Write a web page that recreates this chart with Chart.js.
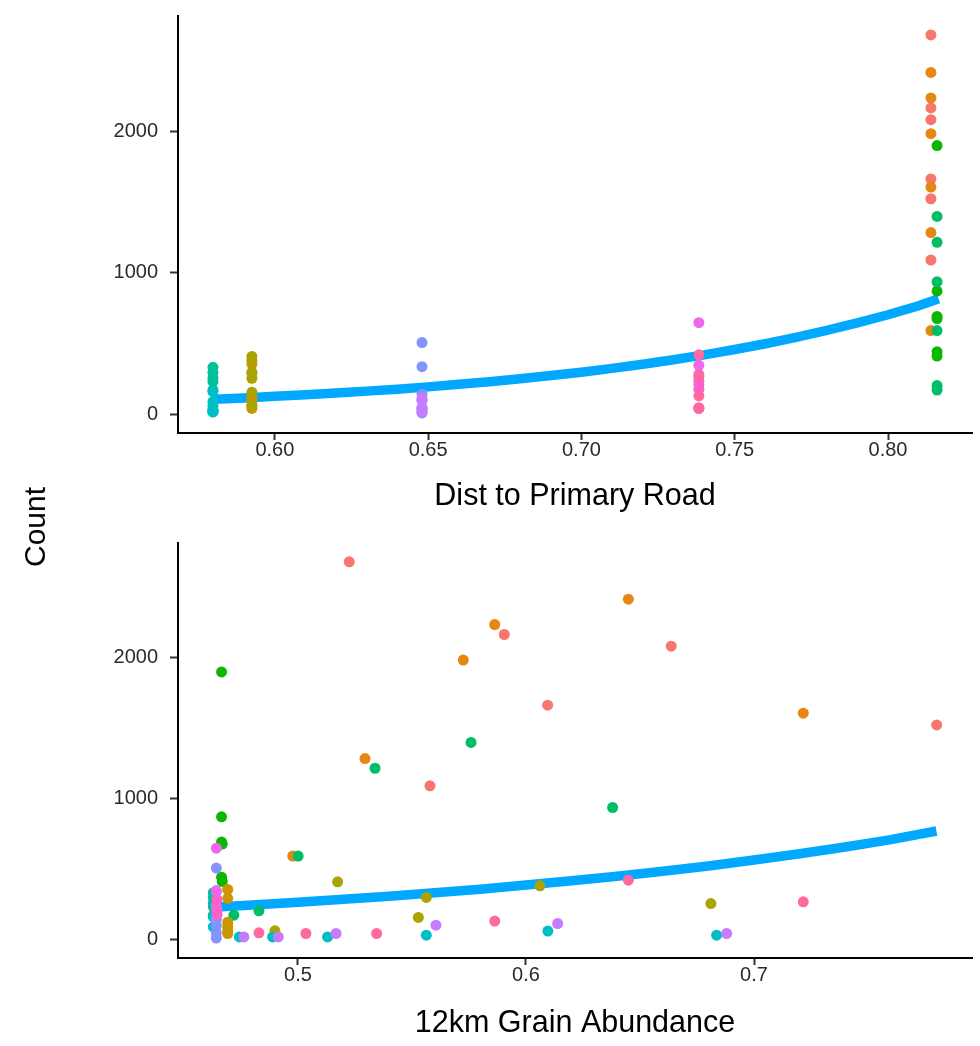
<!DOCTYPE html>
<html>
<head>
<meta charset="utf-8">
<script src="https://cdn.jsdelivr.net/npm/chart.js@4.4.0/dist/chart.umd.min.js"></script>
<style>
  html, body { margin: 0; padding: 0; background: #fff; }
  #wrap { position: relative; width: 980px; height: 1046px; }
  canvas { position: absolute; left: 0; }
  #topChart { top: 0; }
  #bottomChart { top: 520px; }
  #ylab {
    position: absolute; left: 35px; top: 527px;
    transform: translate(-50%, -50%) rotate(-90deg);
    font: 30px "Liberation Sans", Arial, sans-serif; color: #000; white-space: nowrap;
  }
</style>
</head>
<body>
<div id="wrap">
  <canvas id="topChart" width="980" height="520"></canvas>
  <canvas id="bottomChart" width="980" height="526"></canvas>
  <div id="ylab">Count</div>
</div>
<script>
// ggplot hue palette, one colour per group
const groupColors = ['#F8766D', '#E68613', '#CD9600', '#ABA300', '#7CAE00', '#0CB702', '#00BE67', '#00C19A',
                     '#00BFC4', '#00B8E7', '#00A9FF', '#8494FF', '#C77CFF', '#ED68ED', '#FF61CC', '#FF68A1'];
const fitColor = '#00A9FF';

// one entry per observation
const obsGroup = [
  0, 0, 0, 0, 0, 0,
  1, 1, 1, 1, 1, 1,
  5, 5, 5, 5, 5, 5,
  6, 6, 6, 6, 6, 6,
  2, 2, 2, 2, 2, 2,
  3, 3, 3, 3, 3, 3,
  7, 7, 7, 7, 7,
  8, 8, 8, 8, 8, 8, 8, 8,
  11, 11, 11, 11, 11, 11,
  12, 12, 12, 12, 12, 12,
  13, 13, 13,
  14, 14, 14,
  15, 15, 15, 15, 15, 15
];
const obsCount = [
  2680, 2164, 2081, 1662, 1522, 1089,
  2415, 2235, 1982, 1605, 1283, 590,
  1898, 869, 690, 675, 440, 410,
  1397, 1214, 935, 590, 201, 170,
  353, 290, 120, 90, 60, 40,
  407, 379, 296, 154, 253, 59,
  330, 295, 255, 230, 170,
  158, 87, 16, 16, 16, 28, 57, 28,
  505, 335, 140, 95, 45, 8,
  16, 16, 40, 99, 111, 40,
  646, 345, 235,
  280, 205, 175,
  419, 265, 128, 45, 40, 40
];
const obsRoadDist = [
  0.814, 0.814, 0.814, 0.814, 0.814, 0.814,
  0.814, 0.814, 0.814, 0.814, 0.814, 0.814,
  0.816, 0.816, 0.816, 0.816, 0.816, 0.816,
  0.816, 0.816, 0.816, 0.816, 0.816, 0.816,
  0.5925, 0.5925, 0.5925, 0.5925, 0.5925, 0.5925,
  0.5925, 0.5925, 0.5925, 0.5925, 0.5925, 0.5925,
  0.5798, 0.5798, 0.5798, 0.5798, 0.5798,
  0.5798, 0.5798, 0.5798, 0.5798, 0.5798, 0.5798, 0.5798, 0.5798,
  0.648, 0.648, 0.648, 0.648, 0.648, 0.648,
  0.648, 0.648, 0.648, 0.648, 0.648, 0.648,
  0.7383, 0.7383, 0.7383,
  0.7383, 0.7383, 0.7383,
  0.7383, 0.7383, 0.7383, 0.7383, 0.7383, 0.7383
];
const obsGrain = [
  0.5225, 0.5905, 0.6637, 0.6095, 0.7801, 0.5579,
  0.6449, 0.5863, 0.5725, 0.7216, 0.5294, 0.4977,
  0.4665, 0.4665, 0.4665, 0.4668, 0.4665, 0.4668,
  0.5759, 0.5338, 0.638, 0.5001, 0.4829, 0.4719,
  0.4692, 0.4692, 0.4692, 0.4692, 0.4692, 0.4692,
  0.5174, 0.6061, 0.5563, 0.5528, 0.6811, 0.4899,
  0.4629, 0.4629, 0.4629, 0.4629, 0.4629,
  0.4629, 0.4629, 0.4743, 0.4889, 0.513, 0.5563, 0.6096, 0.6836,
  0.4642, 0.4642, 0.4642, 0.4642, 0.4642, 0.4642,
  0.4763, 0.4914, 0.5167, 0.5605, 0.6139, 0.688,
  0.4642, 0.4642, 0.4642,
  0.4645, 0.4645, 0.4645,
  0.6449, 0.7216, 0.5863, 0.4829, 0.5035, 0.5345
];

// fitted curves
const roadFitX = [0.5805, 0.59, 0.60, 0.61, 0.62, 0.63, 0.64, 0.65, 0.66, 0.67, 0.68, 0.69, 0.70,
                  0.71, 0.72, 0.73, 0.74, 0.75, 0.76, 0.77, 0.78, 0.79, 0.80, 0.81, 0.8165];
const roadFitY = [105, 114, 125, 136, 148, 162, 176, 192, 210, 229, 249, 272, 296,
                  323, 352, 384, 418, 456, 497, 542, 591, 644, 702, 766, 815];
const grainFitX = [0.4643, 0.48, 0.50, 0.52, 0.54, 0.56, 0.58, 0.60, 0.62, 0.64, 0.66, 0.68, 0.70,
                   0.72, 0.74, 0.76, 0.78];
const grainFitY = [229, 243, 262, 283, 305, 329, 355, 385, 415, 447, 482, 520, 562,
                   607, 655, 707, 768];

// tick labels
const countTicks = [0, 1000, 2000];
const roadTicks = [0.60, 0.65, 0.70, 0.75, 0.80];
const grainTicks = [0.5, 0.6, 0.7];

const FONT = "'Liberation Sans', Arial, sans-serif";

function makePanel(canvasId, xVals, fitX, fitY, xTicks, digits, xMin, xMax, xTitle, padTop, xAxisHeight, titlePad) {
    const ctx = document.getElementById(canvasId).getContext('2d');
    return new Chart(ctx, {
        type: 'scatter',
        data: {
            datasets: [{
                data: obsCount.map((c, i) => ({ x: xVals[i], y: c })),
                pointBackgroundColor: obsGroup.map(g => groupColors[g]),
                pointBorderWidth: 0,
                pointRadius: 5.5,
                pointHoverRadius: 5.5
            }, {
                type: 'line',
                data: fitX.map((x, i) => ({ x: x, y: fitY[i] })),
                borderColor: fitColor,
                borderWidth: 9.5,
                pointRadius: 0,
                fill: false,
                tension: 0
            }]
        },
        options: {
            responsive: false,
            animation: false,
            devicePixelRatio: 1,
            events: [],
            layout: { padding: { top: padTop, right: 8, left: 0, bottom: 0 } },
            plugins: { legend: { display: false }, tooltip: { enabled: false } },
            scales: {
                x: {
                    type: 'linear',
                    min: xMin,
                    max: xMax,
                    afterBuildTicks: s => { s.ticks = xTicks.map(v => ({ value: v })); },
                    afterFit: s => { s.height = xAxisHeight; },
                    ticks: {
                        callback: v => v.toFixed(digits),
                        color: '#2b2b2b',
                        font: { family: FONT, size: 20 },
                        padding: -2,
                        maxRotation: 0,
                        autoSkip: false
                    },
                    grid: { drawOnChartArea: false, drawTicks: true, tickLength: 7, tickColor: '#333', tickWidth: 2 },
                    border: { display: true, color: '#000', width: 2 },
                    title: {
                        display: true,
                        text: xTitle,
                        color: '#000',
                        font: { family: FONT, size: 30.5 },
                        padding: { top: 0, bottom: titlePad }
                    }
                },
                y: {
                    min: -134,
                    max: 2814,
                    afterBuildTicks: s => { s.ticks = countTicks.map(v => ({ value: v })); },
                    afterFit: s => { s.width = 178; s.paddingTop = 0; s.paddingBottom = 0; },
                    ticks: {
                        callback: v => String(v),
                        color: '#2b2b2b',
                        font: { family: FONT, size: 20 },
                        padding: 12
                    },
                    grid: { drawOnChartArea: false, drawTicks: true, tickLength: 8, tickColor: '#333', tickWidth: 2 },
                    border: { display: true, color: '#000', width: 2 }
                }
            }
        }
    });
}

makePanel('topChart', obsRoadDist, roadFitX, roadFitY, roadTicks, 2, 0.5684, 0.8274,
          'Dist to Primary Road', 16, 87, 5);
makePanel('bottomChart', obsGrain, grainFitX, grainFitY, grainTicks, 1, 0.4474, 0.7956,
          '12km Grain Abundance', 23, 88, 4);
</script>
</body>
</html>
